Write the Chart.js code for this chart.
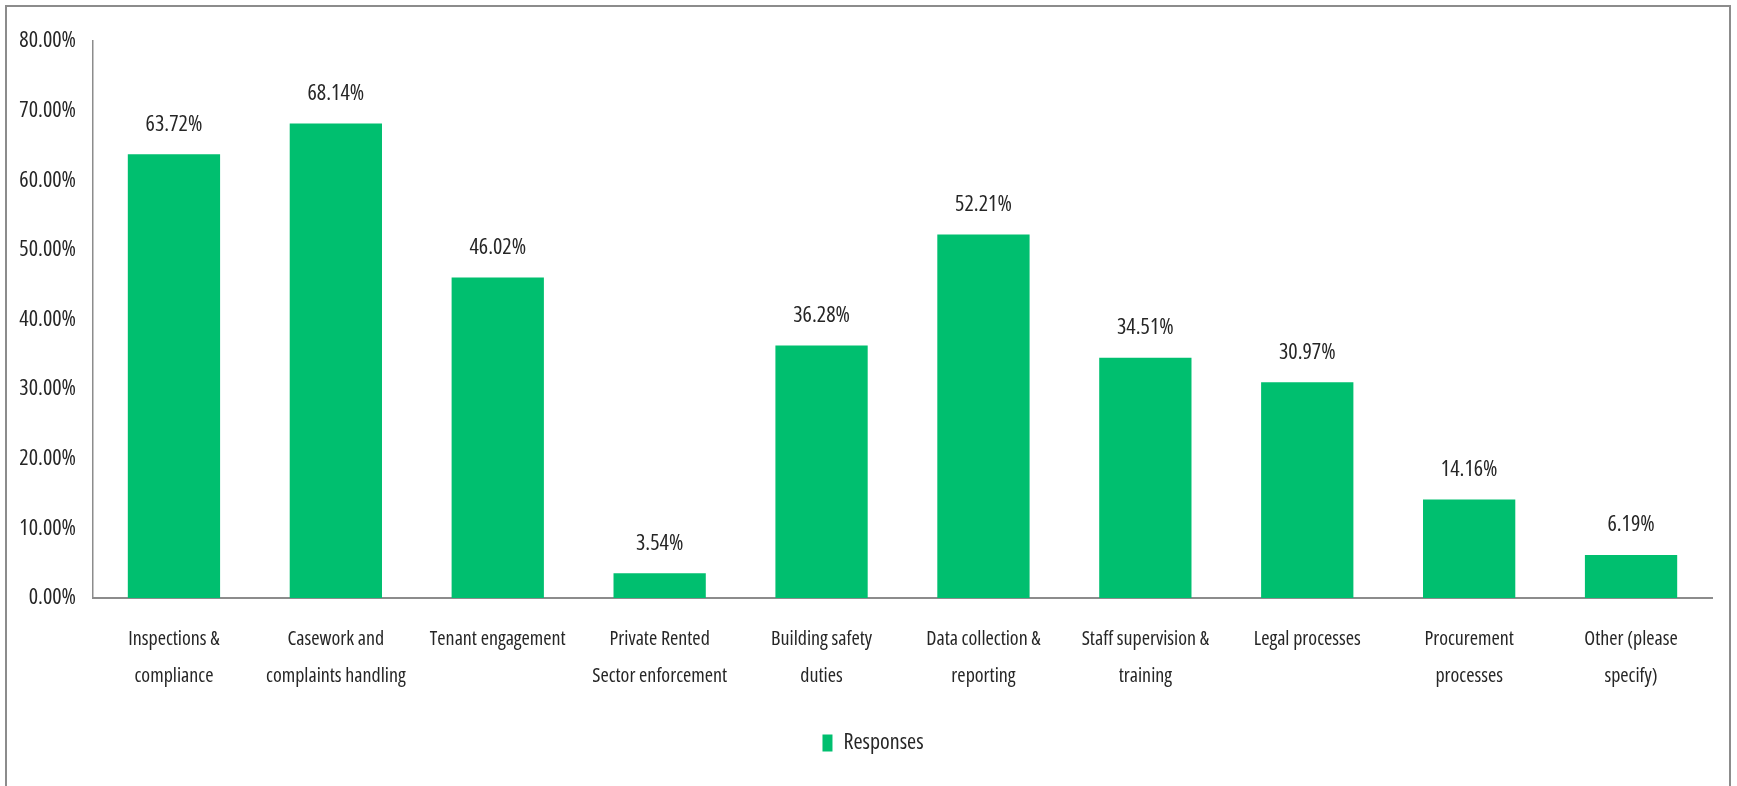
<!DOCTYPE html>
<html>
<head>
<meta charset="utf-8">
<script src="https://cdn.jsdelivr.net/npm/chart.js@4"></script>
<style>
html,body{margin:0;padding:0;background:#fff;}
#wrap{position:relative;width:1737px;height:786px;}
</style>
</head>
<body>
<div id="wrap"><canvas id="c" width="1737" height="786"></canvas></div>
<script>
const categories = [
  ["Inspections &", "compliance"],
  ["Casework and", "complaints handling"],
  ["Tenant engagement"],
  ["Private Rented", "Sector enforcement"],
  ["Building safety", "duties"],
  ["Data collection &", "reporting"],
  ["Staff supervision &", "training"],
  ["Legal processes"],
  ["Procurement", "processes"],
  ["Other (please", "specify)"]
];
const responses = [63.72, 68.14, 46.02, 3.54, 36.28, 52.21, 34.51, 30.97, 14.16, 6.19];
const seriesName = "Responses";
const yTicks = [0, 10, 20, 30, 40, 50, 60, 70, 80];

const FONT = "'Open Sans', 'Roboto Condensed', sans-serif";
const STRETCH = "condensed";
const GREEN = "#00BF6F";
const TEXT = "#262626";

const framePlugin = {
  id: 'frame',
  afterLayout(chart) {
    const lg = chart.legend;
    if (lg) { lg.left += 17; lg.right += 17; }
  },
  afterDraw(chart) {
    const ctx = chart.ctx;
    ctx.save();
    ctx.strokeStyle = '#8c8c8c';
    ctx.lineWidth = 2;
    ctx.strokeRect(6, 6, 1724, 800);
    ctx.restore();
  }
};

const valueLabels = {
  id: 'valueLabels',
  afterDatasetsDraw(chart) {
    const ctx = chart.ctx;
    const meta = chart.getDatasetMeta(0);
    ctx.save();
    ctx.font = STRETCH + " 22px " + FONT;
    ctx.fillStyle = TEXT;
    ctx.textAlign = 'center';
    ctx.textBaseline = 'middle';
    meta.data.forEach((bar, i) => {
      ctx.fillText(responses[i].toFixed(2) + '%', bar.x, bar.y - 30);
    });
    ctx.restore();
  }
};

new Chart(document.getElementById('c'), {
  type: 'bar',
  data: {
    labels: categories,
    datasets: [{
      label: seriesName,
      data: responses,
      backgroundColor: GREEN,
      borderWidth: 0,
      categoryPercentage: 1.0,
      barPercentage: 0.57
    }]
  },
  options: {
    responsive: false,
    animation: false,
    devicePixelRatio: 1,
    layout: { padding: { top: 41, right: 25, bottom: 22, left: 0 } },
    plugins: {
      legend: {
        position: 'bottom',
        labels: {
          font: { size: 22, family: FONT, weight: STRETCH },
          color: TEXT,
          boxWidth: 10,
          boxHeight: 17,
          padding: 10,
          useBorderRadius: false
        }
      },
      tooltip: { enabled: false }
    },
    scales: {
      x: {
        grid: { display: false, drawTicks: false },
        border: { display: true, color: '#8c8c8c', width: 2 },
        ticks: {
          font: { size: 20, family: FONT, weight: STRETCH, lineHeight: 1.85 },
          color: TEXT,
          padding: 23,
          maxRotation: 0,
          autoSkip: false
        },
        afterFit(s) { s.height = 124; }
      },
      y: {
        min: 0,
        max: 80,
        grid: { display: false, drawTicks: false },
        border: { display: true, color: '#8c8c8c', width: 1.5 },
        afterBuildTicks(s) { s.ticks = yTicks.map(v => ({ value: v })); },
        ticks: {
          font: { size: 22, family: FONT, weight: STRETCH },
          color: TEXT,
          padding: 17,
          callback: v => v.toFixed(2) + '%'
        },
        afterFit(s) { s.width = 93; }
      }
    }
  },
  plugins: [framePlugin, valueLabels]
});
</script>
</body>
</html>
